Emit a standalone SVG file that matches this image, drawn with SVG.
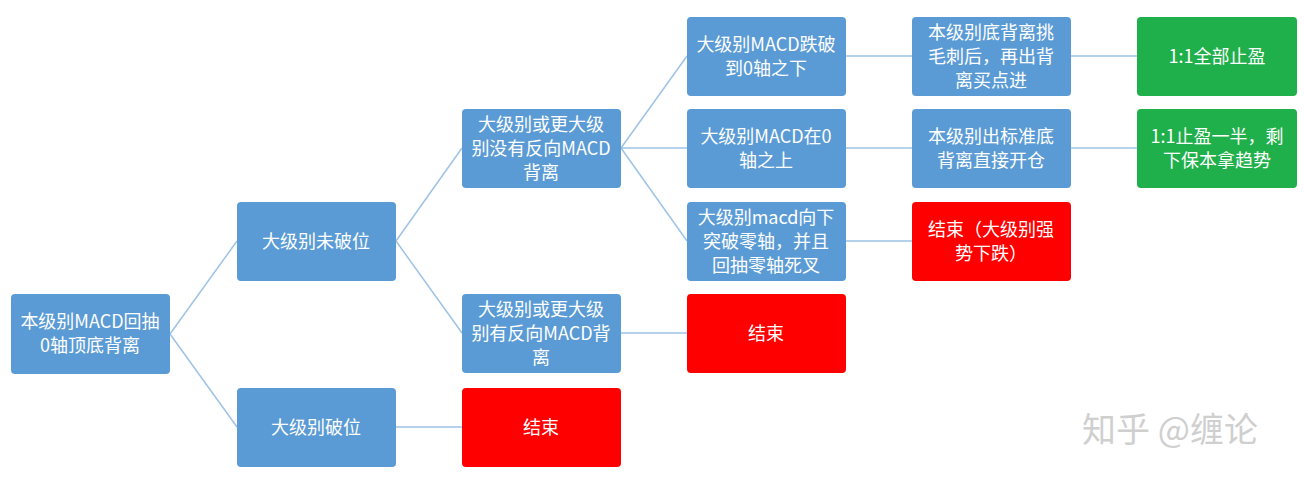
<svg xmlns="http://www.w3.org/2000/svg" width="1304" height="482" viewBox="0 0 1304 482">
<style>
.b{fill:#5B9BD5}.r{fill:#FF0000}.g{fill:#1FAF4B}
text{font-family:"Noto Sans CJK SC","Liberation Sans",sans-serif;font-size:18px;fill:#fff;text-anchor:middle}
.c{stroke:#9DC3E6;stroke-width:1.5;fill:none}
</style>
<rect width="1304" height="482" fill="#fff"/>
<g id="connectors" class="c">
<path d="M170 334L237 241M170 334L237 427M396 241L462 148M396 241L462 333M396 427L462 427M621 148L687 56M621 148L687 148M621 148L687 241M621 333L687 333M846 56L912 56M846 148L912 148M846 241L912 241M1071 56L1137 56M1071 148L1137 148"/>
</g>
<g id="root"><rect class="b" x="11" y="294" width="159" height="80" rx="4"/><text x="90" y="328">本级别MACD回抽</text><text x="90" y="352">0轴顶底背离</text></g>
<g id="n1"><rect class="b" x="237" y="202" width="159" height="79" rx="4"/><text x="316" y="248">大级别未破位</text></g>
<g id="n2"><rect class="b" x="237" y="388" width="159" height="79" rx="4"/><text x="316" y="434">大级别破位</text></g>
<g id="n3"><rect class="b" x="462" y="109" width="159" height="79" rx="4"/><text x="541" y="131">大级别或更大级</text><text x="541" y="155">别没有反向MACD</text><text x="541" y="179">背离</text></g>
<g id="n4"><rect class="b" x="462" y="294" width="159" height="79" rx="4"/><text x="541" y="316">大级别或更大级</text><text x="541" y="340">别有反向MACD背</text><text x="541" y="364">离</text></g>
<g id="n5"><rect class="r" x="462" y="388" width="159" height="79" rx="4"/><text x="541" y="434">结束</text></g>
<g id="n6"><rect class="b" x="687" y="17" width="159" height="79" rx="4"/><text x="766" y="51">大级别MACD跌破</text><text x="766" y="75">到0轴之下</text></g>
<g id="n7"><rect class="b" x="687" y="109" width="159" height="79" rx="4"/><text x="766" y="143">大级别MACD在0</text><text x="766" y="167">轴之上</text></g>
<g id="n8"><rect class="b" x="687" y="202" width="159" height="79" rx="4"/><text x="766" y="224">大级别macd向下</text><text x="766" y="248">突破零轴，并且</text><text x="766" y="272">回抽零轴死叉</text></g>
<g id="n9"><rect class="r" x="687" y="294" width="159" height="79" rx="4"/><text x="766" y="340">结束</text></g>
<g id="n10"><rect class="b" x="912" y="17" width="159" height="79" rx="4"/><text x="991" y="39">本级别底背离挑</text><text x="991" y="63">毛刺后，再出背</text><text x="991" y="87">离买点进</text></g>
<g id="n11"><rect class="b" x="912" y="109" width="159" height="79" rx="4"/><text x="991" y="143">本级别出标准底</text><text x="991" y="167">背离直接开仓</text></g>
<g id="n12"><rect class="r" x="912" y="202" width="159" height="79" rx="4"/><text x="991" y="236">结束（大级别强</text><text x="991" y="260">势下跌）</text></g>
<g id="n13"><rect class="g" x="1137" y="17" width="160" height="79" rx="4"/><text x="1217" y="63">1:1全部止盈</text></g>
<g id="n14"><rect class="g" x="1137" y="109" width="160" height="79" rx="4"/><text x="1217" y="143">1:1止盈一半，剩</text><text x="1217" y="167">下保本拿趋势</text></g>
<text x="1170" y="442" style="font-size:34px;fill:#cfcfcf">知乎 @缠论</text>
</svg>
